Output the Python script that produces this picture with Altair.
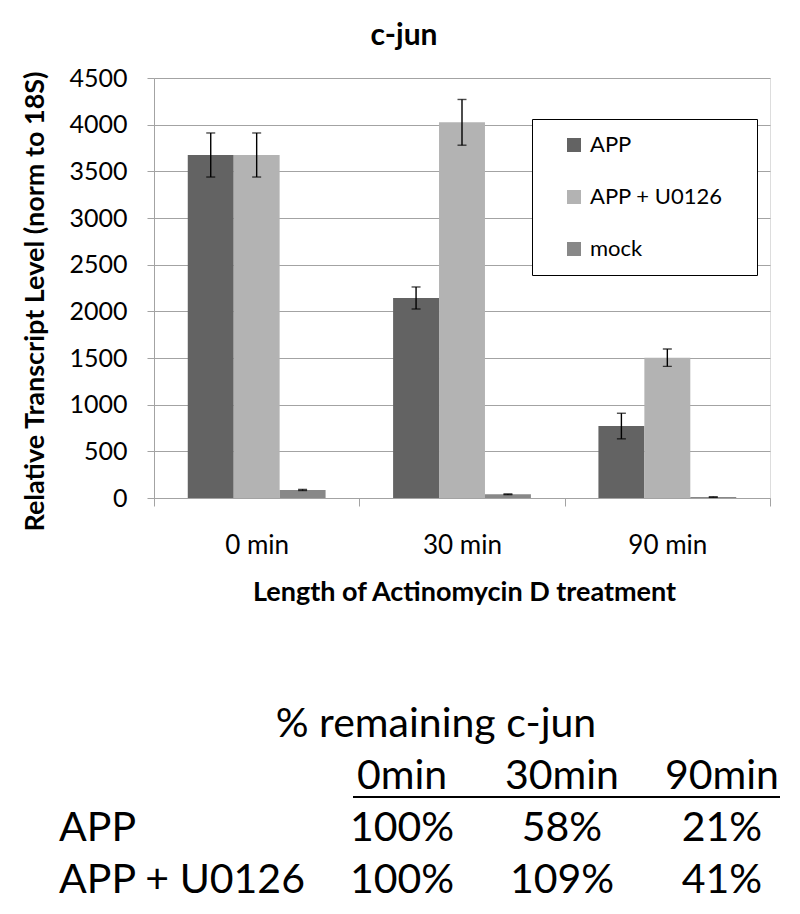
import altair as alt
import pandas as pd

# ---- data ----
categories = ["0 min", "30 min", "90 min"]
series = ["APP", "APP + U0126", "mock"]
app_vals = [3675, 2143, 771]
app_err = [236, 118, 137]
u0126_vals = [3675, 4025, 1503]
u0126_err = [236, 245, 93]
mock_vals = [86, 40, 10]
mock_err = [6, 4, 3]
colors = ["#636363", "#b3b3b3", "#888888"]

table_title = "% remaining c-jun"
table_cols = ["0min", "30min", "90min"]
table_rows = ["APP", "APP + U0126"]
pct_app = ["100%", "58%", "21%"]
pct_u0126 = ["100%", "109%", "41%"]

FONT = "Lato"
GRAY = "#a3a3a3"

rows = []
for s, vals, errs in zip(series, [app_vals, u0126_vals, mock_vals], [app_err, u0126_err, mock_err]):
    for c, v, e in zip(categories, vals, errs):
        rows.append({"cat": c, "series": s, "value": v, "lo": v - e, "hi": v + e})
df = pd.DataFrame(rows)

xenc = alt.X(
    "cat:N", sort=categories,
    scale=alt.Scale(paddingInner=0, paddingOuter=0),
    axis=alt.Axis(title="Length of Actinomycin D treatment", labelAngle=0, tickBand="extent",
                  labelFont=FONT, labelFontSize=26, labelColor="black", labelPadding=47,
                  labelBaseline="alphabetic", tickSize=8,
                  titleFont=FONT, titleFontSize=27, titleFontWeight="bold", titleColor="black",
                  titleX=310, titleY=102, titleBaseline="alphabetic", titleAlign="center",
                  domainColor=GRAY, tickColor=GRAY, grid=False),
)
xoff = alt.XOffset("series:N", sort=series, scale=alt.Scale(paddingInner=0, paddingOuter=0.735))
yenc = alt.Y(
    "value:Q",
    scale=alt.Scale(domain=[0, 4500], nice=False),
    axis=alt.Axis(title="Relative Transcript Level (norm to 18S)", values=list(range(0, 4501, 500)),
                  format="d", labelFont=FONT, labelFontSize=25, labelColor="black",
                  labelPadding=20, tickSize=7,
                  titleFont=FONT, titleFontSize=27, titleFontWeight="bold", titleColor="black",
                  titleX=-111, titleY=223, titleAngle=270, titleBaseline="alphabetic",
                  titleAlign="center",
                  domainColor=GRAY, tickColor=GRAY, gridColor=GRAY, gridWidth=1.2),
)

base = alt.Chart(df)
bars = base.mark_bar().encode(
    x=xenc, xOffset=xoff, y=yenc,
    color=alt.Color("series:N", sort=series, scale=alt.Scale(domain=series, range=colors),
                    legend=alt.Legend(title="\u00a0", titleOrient="right", titlePadding=19,
                                      titleFontSize=8, titleColor="white",
                                      orient="none", legendX=378, legendY=41,
                                      fillColor="white", strokeColor="black", padding=15,
                                      symbolType="square", symbolSize=196, symbolStrokeWidth=0,
                                      symbolOffset=16, labelOffset=5, labelFontSize=22,
                                      labelFont=FONT, labelColor="black", rowPadding=30)),
)
err_rule = base.mark_rule(color="black", strokeWidth=1.4).encode(
    x=xenc, xOffset=xoff, y=alt.Y("lo:Q"), y2="hi:Q")
cap_lo = base.mark_tick(color="black", thickness=1.4, size=9).encode(
    x=xenc, xOffset=xoff, y=alt.Y("lo:Q"))
cap_hi = base.mark_tick(color="black", thickness=1.4, size=9).encode(
    x=xenc, xOffset=xoff, y=alt.Y("hi:Q"))
main = alt.layer(bars, err_rule, cap_lo, cap_hi)

# ---- table below the chart ----
row_domain = ["title", "header"] + table_rows
ty = alt.Y("row:N", scale=alt.Scale(type="point", domain=row_domain, range=[659, 815], padding=0), axis=None)
tx = alt.X("col:N", scale=alt.Scale(type="point", domain=table_cols, range=[248, 568], padding=0), axis=None)

title_df = pd.DataFrame({"row": ["title"], "text": [table_title]})
header_df = pd.DataFrame({"row": ["header"] * 3, "col": table_cols, "text": table_cols})
label_df = pd.DataFrame({"row": table_rows, "text": table_rows})
vals_rows = []
for r, vals in zip(table_rows, [pct_app, pct_u0126]):
    for c, v in zip(table_cols, vals):
        vals_rows.append({"row": r, "col": c, "text": v})
vals_df = pd.DataFrame(vals_rows)

tstyle = dict(font=FONT, fontSize=41, color="black", baseline="alphabetic")
t_title = alt.Chart(title_df).mark_text(align="center", **tstyle).encode(
    x=alt.value(282), y=ty, text="text:N")
t_header = alt.Chart(header_df).mark_text(align="center", **tstyle).encode(
    x=tx, y=ty, text="text:N")
t_label = alt.Chart(label_df).mark_text(align="left", **tstyle).encode(
    x=alt.value(-95), y=ty, text="text:N")
t_vals = alt.Chart(vals_df).mark_text(align="center", **tstyle).encode(
    x=tx, y=ty, text="text:N")
underline = alt.Chart(title_df).mark_rule(color="black", strokeWidth=2).encode(
    x=alt.value(199), x2=alt.value(626), y=alt.value(719))

chart = alt.layer(main, t_title, t_header, t_label, t_vals, underline).resolve_scale(
    x="independent", y="independent"
).properties(
    width=616, height=420,
    title=alt.TitleParams("c-jun", fontSize=30, fontWeight="bold", font=FONT, anchor="middle",
                          frame="group", offset=15, dx=-58, color="black"),
    autosize=alt.AutoSizeParams(type="none"),
    padding={"left": 146, "top": 70, "right": 22, "bottom": 412},
).configure_view(stroke=None).configure(background="white")

chart.save("out.html", embed_options={"renderer": "svg", "actions": False})
